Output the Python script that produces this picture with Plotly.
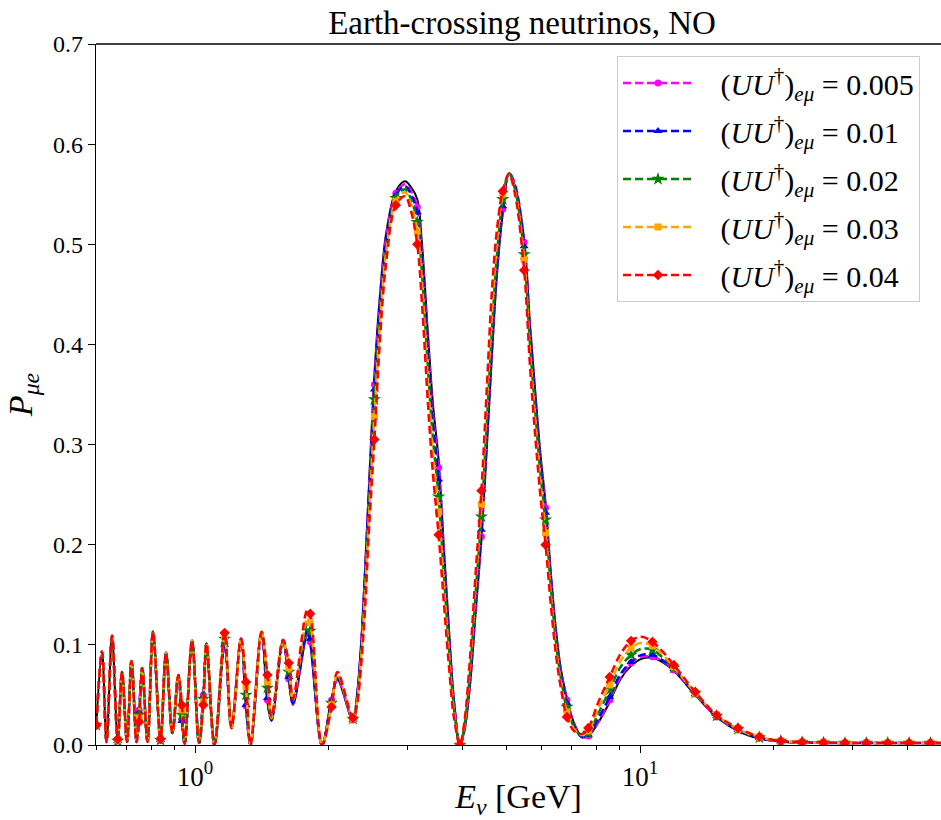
import plotly.graph_objects as go

# Energy grid of the control points (GeV)
E_LINE = [
    0.6000, 0.6181, 0.6326, 0.6509, 0.6704, 0.6855, 0.7034, 0.7200, 0.7388, 0.7490,
    0.7610, 0.7821, 0.8047, 0.8364, 0.8606, 0.8892, 0.9173, 0.9345, 0.9481, 0.9846,
    1.0209, 1.0439, 1.0613, 1.1061, 1.1655, 1.2078, 1.2687, 1.3020, 1.3327, 1.4107,
    1.4546, 1.4856, 1.5766, 1.6246, 1.6605, 1.7878, 1.8150, 1.9292, 2.0275, 2.0904,
    2.2651, 2.3124, 2.3607, 2.4100, 2.4604, 2.5301, 2.6046, 2.6867, 2.8265, 2.9643,
    3.0575, 3.1580, 3.2369, 3.3387, 3.4264, 3.5270, 3.6275, 3.7223, 3.8195, 3.9400,
    4.0330, 4.1495, 4.2690, 4.4010, 4.5305, 4.6495, 4.7714, 4.9150, 5.0772, 5.2374,
    5.4910, 5.6604, 5.8233, 5.9757, 6.1340, 6.3096, 6.4749, 6.6446, 6.8510, 7.1078,
    7.4081, 7.6530, 8.0468, 8.5480, 9.0164, 9.5480, 10.078, 10.666, 11.206, 11.914,
    13.308, 14.866, 16.604, 18.548, 20.72, 23.14, 25.85, 28.88, 32.26, 36.03,
    40.25, 44.96, 50.0,
]

# Energies at which the markers are drawn
E_MARK = [
    0.6000, 0.6704, 0.7490, 0.8364, 0.9345, 1.0439, 1.1655, 1.3020, 1.4546, 1.6246,
    1.8150, 2.0275, 2.2651, 2.5301, 2.8265, 3.1580, 3.5270, 3.9400, 4.4010, 4.9150,
    5.4910, 6.1340, 6.8510, 7.6530, 8.5480, 9.5480, 10.666, 11.914, 13.308, 14.866,
    16.604, 18.548, 20.72, 23.14, 25.85, 28.88, 32.26, 36.03, 40.25, 44.96,
]

# Standard case (black solid line)
P_BLACK = [
    0.020, 0.093, 0.003, 0.109, 0.004, 0.073, 0.003, 0.084, 0.003, 0.036,
    0.077, 0.003, 0.113, 0.005, 0.092, 0.012, 0.070, 0.022, 0.001, 0.104,
    0.002, 0.052, 0.101, 0.000, 0.099, 0.017, 0.106, 0.036, 0.000, 0.113,
    0.043, 0.024, 0.104, 0.064, 0.040, 0.110, 0.100, 0.000, 0.047, 0.065,
    0.024, 0.050, 0.100, 0.175, 0.260, 0.370, 0.450, 0.510, 0.553, 0.563,
    0.557, 0.545, 0.500, 0.410, 0.340, 0.285, 0.195, 0.115, 0.045, 0.000,
    0.015, 0.060, 0.130, 0.205, 0.300, 0.390, 0.470, 0.530, 0.571, 0.558,
    0.505, 0.420, 0.350, 0.290, 0.242, 0.170, 0.115, 0.075, 0.047, 0.022,
    0.008, 0.009, 0.022, 0.043, 0.065, 0.079, 0.086, 0.087, 0.083, 0.074,
    0.050, 0.028, 0.014, 0.0065, 0.0035, 0.0025, 0.0022, 0.002, 0.002, 0.002,
    0.002, 0.002, 0.002,
]

# (UU^dagger)_{e mu} = 0.005
P_U005 = [
    0.020, 0.093, 0.003, 0.109, 0.004, 0.073, 0.003, 0.084, 0.003, 0.035,
    0.077, 0.003, 0.113, 0.005, 0.092, 0.012, 0.070, 0.025, 0.001, 0.104,
    0.002, 0.050, 0.101, 0.000, 0.100, 0.017, 0.106, 0.039, 0.000, 0.113,
    0.045, 0.025, 0.104, 0.066, 0.041, 0.112, 0.103, 0.000, 0.045, 0.066,
    0.025, 0.048, 0.097, 0.170, 0.255, 0.360, 0.445, 0.505, 0.551, 0.560,
    0.553, 0.537, 0.490, 0.400, 0.330, 0.277, 0.188, 0.110, 0.043, 0.000,
    0.016, 0.062, 0.135, 0.208, 0.305, 0.395, 0.475, 0.535, 0.571, 0.560,
    0.502, 0.415, 0.345, 0.285, 0.237, 0.167, 0.112, 0.073, 0.045, 0.021,
    0.008, 0.009, 0.023, 0.045, 0.067, 0.082, 0.088, 0.088, 0.084, 0.075,
    0.051, 0.028, 0.015, 0.007, 0.0035, 0.0025, 0.0022, 0.002, 0.002, 0.002,
    0.002, 0.002, 0.002,
]

# (UU^dagger)_{e mu} = 0.01
P_U01 = [
    0.020, 0.093, 0.003, 0.109, 0.004, 0.073, 0.003, 0.084, 0.003, 0.033,
    0.077, 0.003, 0.113, 0.005, 0.092, 0.012, 0.070, 0.024, 0.001, 0.104,
    0.002, 0.048, 0.101, 0.000, 0.100, 0.017, 0.106, 0.040, 0.000, 0.113,
    0.047, 0.025, 0.104, 0.068, 0.042, 0.115, 0.106, 0.000, 0.044, 0.067,
    0.025, 0.047, 0.095, 0.168, 0.250, 0.355, 0.440, 0.500, 0.549, 0.558,
    0.550, 0.532, 0.483, 0.390, 0.320, 0.265, 0.180, 0.105, 0.040, 0.000,
    0.017, 0.066, 0.140, 0.215, 0.310, 0.400, 0.478, 0.538, 0.571, 0.558,
    0.498, 0.410, 0.340, 0.280, 0.232, 0.163, 0.108, 0.070, 0.042, 0.020,
    0.008, 0.010, 0.026, 0.048, 0.070, 0.083, 0.090, 0.090, 0.085, 0.076,
    0.051, 0.029, 0.015, 0.007, 0.0035, 0.0025, 0.0022, 0.002, 0.002, 0.002,
    0.002, 0.002, 0.002,
]

# (UU^dagger)_{e mu} = 0.02
P_U02 = [
    0.020, 0.093, 0.003, 0.109, 0.004, 0.073, 0.003, 0.084, 0.003, 0.030,
    0.077, 0.003, 0.113, 0.005, 0.092, 0.012, 0.070, 0.030, 0.001, 0.104,
    0.002, 0.046, 0.101, 0.000, 0.106, 0.017, 0.106, 0.050, 0.000, 0.113,
    0.057, 0.026, 0.104, 0.073, 0.044, 0.121, 0.114, 0.000, 0.042, 0.069,
    0.026, 0.045, 0.090, 0.160, 0.240, 0.345, 0.430, 0.495, 0.546, 0.555,
    0.545, 0.522, 0.470, 0.375, 0.305, 0.248, 0.168, 0.097, 0.037, 0.000,
    0.019, 0.072, 0.150, 0.228, 0.325, 0.415, 0.490, 0.545, 0.571, 0.555,
    0.490, 0.400, 0.330, 0.270, 0.225, 0.157, 0.103, 0.066, 0.038, 0.018,
    0.009, 0.012, 0.031, 0.055, 0.077, 0.090, 0.096, 0.095, 0.088, 0.077,
    0.052, 0.029, 0.016, 0.0075, 0.004, 0.0027, 0.0023, 0.002, 0.002, 0.002,
    0.002, 0.002, 0.002,
]

# (UU^dagger)_{e mu} = 0.03
P_U03 = [
    0.020, 0.093, 0.003, 0.109, 0.005, 0.073, 0.003, 0.084, 0.003, 0.027,
    0.077, 0.003, 0.113, 0.006, 0.092, 0.012, 0.070, 0.035, 0.001, 0.104,
    0.002, 0.043, 0.101, 0.000, 0.109, 0.017, 0.106, 0.058, 0.000, 0.113,
    0.063, 0.027, 0.104, 0.077, 0.045, 0.127, 0.122, 0.000, 0.040, 0.071,
    0.026, 0.043, 0.085, 0.150, 0.228, 0.328, 0.420, 0.490, 0.543, 0.552,
    0.540, 0.513, 0.460, 0.360, 0.290, 0.233, 0.157, 0.090, 0.033, 0.000,
    0.021, 0.078, 0.158, 0.240, 0.345, 0.432, 0.503, 0.550, 0.570, 0.553,
    0.485, 0.392, 0.320, 0.260, 0.212, 0.147, 0.097, 0.061, 0.033, 0.016,
    0.010, 0.014, 0.036, 0.060, 0.083, 0.097, 0.102, 0.099, 0.091, 0.078,
    0.052, 0.030, 0.016, 0.008, 0.004, 0.0028, 0.0023, 0.002, 0.002, 0.002,
    0.002, 0.002, 0.002,
]

# (UU^dagger)_{e mu} = 0.04
P_U04 = [
    0.020, 0.093, 0.003, 0.109, 0.006, 0.073, 0.003, 0.084, 0.003, 0.023,
    0.077, 0.003, 0.113, 0.006, 0.092, 0.012, 0.070, 0.040, 0.001, 0.104,
    0.002, 0.040, 0.101, 0.000, 0.112, 0.017, 0.106, 0.063, 0.000, 0.113,
    0.070, 0.028, 0.105, 0.082, 0.046, 0.135, 0.131, 0.000, 0.038, 0.073,
    0.027, 0.040, 0.078, 0.135, 0.215, 0.305, 0.405, 0.480, 0.539, 0.548,
    0.533, 0.500, 0.440, 0.340, 0.270, 0.210, 0.140, 0.078, 0.027, 0.000,
    0.024, 0.087, 0.170, 0.254, 0.360, 0.455, 0.515, 0.553, 0.570, 0.550,
    0.474, 0.378, 0.305, 0.248, 0.200, 0.138, 0.090, 0.056, 0.028, 0.014,
    0.011, 0.017, 0.042, 0.068, 0.090, 0.104, 0.108, 0.103, 0.094, 0.080,
    0.053, 0.030, 0.017, 0.0083, 0.004, 0.003, 0.0025, 0.002, 0.002, 0.002,
    0.002, 0.002, 0.002,
]

SERIES_VALUES = [P_U005, P_U01, P_U02, P_U03, P_U04]
SERIES_LABELS = ["0.005", "0.01", "0.02", "0.03", "0.04"]
SERIES_COLORS = ["#ff00ff", "#0000ff", "#008000", "#ffa500", "#ff0000"]
SERIES_SYMBOLS = ["circle", "triangle-up", "star", "square", "diamond"]
SERIES_SIZES = [7, 8, 10, 7, 8]

X_TICKS = [1, 10]
X_TICK_TEXT = ["10<sup>0</sup>", "10<sup>1</sup>"]
X_MINOR = [0.6, 0.7, 0.8, 0.9, 2, 3, 4, 5, 6, 7, 8, 9, 20, 30, 40]
Y_TICKS = [0.0, 0.1, 0.2, 0.3, 0.4, 0.5, 0.6, 0.7]

FONT = "Liberation Serif"
DASH = "8px,4px"
PAD = "\u00a0\u00a0\u00a0"

fig = go.Figure()

fig.add_trace(go.Scatter(
    x=E_LINE, y=P_BLACK, mode="lines",
    line=dict(color="black", width=2, shape="spline", smoothing=1.0),
    showlegend=False, hoverinfo="skip",
))

mark_set = set(E_MARK)
for vals, col, sym, size in zip(SERIES_VALUES, SERIES_COLORS, SERIES_SYMBOLS, SERIES_SIZES):
    fig.add_trace(go.Scatter(
        x=E_LINE, y=vals, mode="lines",
        line=dict(color=col, width=2.5, dash=DASH, shape="spline", smoothing=1.0),
        showlegend=False, hoverinfo="skip",
    ))
    mx = [e for e in E_LINE if e in mark_set]
    my = [v for e, v in zip(E_LINE, vals) if e in mark_set]
    fig.add_trace(go.Scatter(
        x=mx, y=my, mode="markers",
        marker=dict(color=col, symbol=sym, size=size, line=dict(width=0)),
        showlegend=False, hoverinfo="skip",
    ))

# legend entries
for i, (lab, col, sym, size) in enumerate(zip(SERIES_LABELS, SERIES_COLORS, SERIES_SYMBOLS, SERIES_SIZES)):
    fig.add_trace(go.Scatter(
        x=[None], y=[None], mode="lines+markers",
        line=dict(color=col, width=2.5, dash=DASH),
        marker=dict(color=col, symbol=sym, size=size, line=dict(width=0)),
        name=PAD + "(<i>UU</i><sup>†</sup>)<sub><i>eμ</i></sub> = " + lab,
        legendgroup="g%d" % i, showlegend=True,
    ))

fig.update_layout(
    width=941, height=820,
    margin=dict(l=96, r=0, t=44, b=75),
    paper_bgcolor="white", plot_bgcolor="white",
    font=dict(family=FONT, size=24, color="black"),
    title=dict(
        text="Earth-crossing neutrinos, NO",
        x=522 / 941, xref="container", xanchor="center",
        y=1 - 22 / 820, yref="container", yanchor="middle",
        font=dict(family=FONT, size=33, color="black"),
    ),
    legend=dict(
        x=(617 - 96) / 845, y=(745 - 56) / 701, xanchor="left", yanchor="top",
        bgcolor="rgba(255,255,255,0.85)", bordercolor="#cccccc", borderwidth=1,
        font=dict(family=FONT, size=30, color="black"),
        traceorder="grouped", tracegroupgap=6, itemwidth=70,
    ),
    xaxis=dict(
        type="log", range=[-0.2225, 1.6764],
        showline=True, linecolor="black", linewidth=1.3,
        ticks="outside", ticklen=7, tickwidth=1.3, tickcolor="black",
        tickvals=X_TICKS, ticktext=X_TICK_TEXT, tickfont=dict(family=FONT, size=27),
        minor=dict(tickvals=X_MINOR, ticks="outside", ticklen=4, tickwidth=1, tickcolor="black"),
        showgrid=False, zeroline=False,
        title=dict(text="<i>E</i><sub><i>ν</i></sub> [GeV]", font=dict(family=FONT, size=34), standoff=6),
    ),
    yaxis=dict(
        range=[0, 0.7], tickvals=Y_TICKS, tickformat=".1f",
        showline=True, linecolor="black", linewidth=1.3,
        ticks="outside", ticklen=7, tickwidth=1.3, tickcolor="black",
        showgrid=False, zeroline=False,
        title=dict(text="<i>P</i><sub><i>μe</i></sub>", font=dict(family=FONT, size=34), standoff=10),
    ),
    shapes=[dict(type="line", xref="paper", yref="paper", x0=0, x1=1, y0=1, y1=1,
                 line=dict(color="black", width=1.3))],
)

fig.write_html("out.html", config={"displayModeBar": False},
               post_script="document.body.style.margin='0px';")
